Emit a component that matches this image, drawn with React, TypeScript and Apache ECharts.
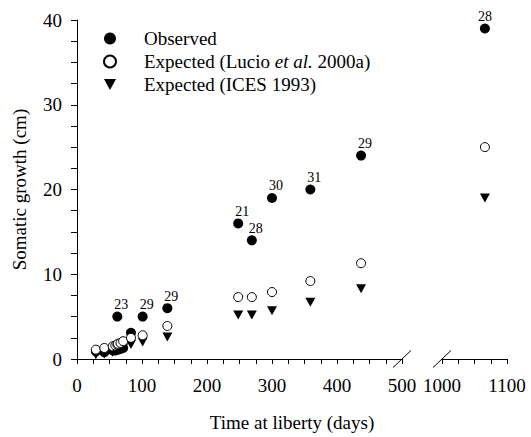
import React, { useEffect, useRef } from 'react';
import * as echarts from 'echarts';

// ---- data ----
const days = [29, 42, 55, 59, 62, 63, 67, 71, 83, 101, 139, 248, 269, 300, 359, 437, 1066];
const observed = [0.9, 0.8, 1.0, 1.0, 5.0, 1.1, 1.2, 1.3, 3.1, 5.0, 6.0, 16.0, 14.0, 19.0, 20.0, 24.0, 39.0];
const pointLabels = ['', '', '', '', '23', '', '', '', '', '29', '29', '21', '28', '30', '31', '29', '28'];
const expectedLucio = [1.1, 1.3, 1.5, 1.6, 1.7, 1.8, 1.9, 2.1, 2.5, 2.8, 3.9, 7.3, 7.3, 7.9, 9.2, 11.3, 25.0];
const expectedICES = [0.5, 0.6, 0.8, 0.9, 1.0, 1.0, 1.1, 1.3, 1.7, 2.0, 2.6, 5.2, 5.2, 5.7, 6.7, 8.3, 19.0];

const seriesNames = ['Observed', 'Expected (Lucio et al. 2000a)', 'Expected (ICES 1993)'];
const leftRange = [0, 500];
const rightRange = [1000, 1100];
const yRange = [0, 40];
const xTickStep = 25;
const xLabelStep = 100;
const yTickStep = 2.5;
const yLabelStep = 10;
const xTitle = 'Time at liberty (days)';
const yTitle = 'Somatic growth (cm)';

// ---- layout ----
const FONT = '"Liberation Serif", "Times New Roman", serif';
const GRID_TOP = 20;
const GRID_H = 339;
const LEFT0 = 77;
const W0 = 325;
const LEFT1 = 442;
const W1 = 65;
const AXIS_Y = GRID_TOP + GRID_H;

const TRIANGLE = 'path://M0,0L10,0L5,9Z';

export default function App() {
  const ref = useRef<HTMLDivElement>(null);
  useEffect(() => {
    if (!ref.current) return;
    const chart = echarts.init(ref.current, undefined, { renderer: 'svg' });

    const inGrid = (gi: number) => (d: number) => (gi === 0 ? d < rightRange[0] : d >= rightRange[0]);
    const build = (values: number[], gi: number, withLabel: boolean) =>
      days
        .map((d, i) => (withLabel ? [d, values[i], pointLabels[i]] : [d, values[i]]))
        .filter((p) => inGrid(gi)(p[0] as number));

    const series: any[] = [];
    [0, 1].forEach((gi) => {
      series.push({
        name: seriesNames[0],
        type: 'scatter',
        xAxisIndex: gi,
        yAxisIndex: gi,
        symbol: 'circle',
        symbolSize: 10,
        itemStyle: { color: '#000', opacity: 1 },
        data: build(observed, gi, true),
        label: {
          show: true,
          position: 'top',
          distance: 0,
          offset: gi === 0 ? [4, 0] : [0, 0],
          formatter: (p: any) => p.value[2] || '',
          fontFamily: FONT,
          fontSize: 14,
          color: '#000',
        },
        emphasis: { disabled: true },
        z: 2,
      });
      series.push({
        name: seriesNames[2],
        type: 'scatter',
        xAxisIndex: gi,
        yAxisIndex: gi,
        symbol: TRIANGLE,
        symbolSize: [10, 9],
        itemStyle: { color: '#000', opacity: 1 },
        data: build(expectedICES, gi, false),
        emphasis: { disabled: true },
        z: 3,
      });
      series.push({
        name: seriesNames[1],
        type: 'scatter',
        xAxisIndex: gi,
        yAxisIndex: gi,
        symbol: 'circle',
        symbolSize: 9,
        itemStyle: { color: '#fff', borderColor: '#000', borderWidth: 1, opacity: 1 },
        data: build(expectedLucio, gi, false),
        emphasis: { disabled: true },
        z: 4,
      });
    });

    const axisCommon = {
      axisLine: { show: true, lineStyle: { color: '#000', width: 1 } },
      splitLine: { show: false },
    };

    const xAxisFor = (gi: number, range: number[]) => ({
      type: 'value',
      gridIndex: gi,
      min: range[0],
      max: range[1],
      interval: xTickStep,
      ...axisCommon,
      axisTick: { show: true, length: 5, inside: false, lineStyle: { color: '#000' } },
      axisLabel: {
        margin: 17,
        fontFamily: FONT,
        fontSize: 19,
        color: '#000',
        formatter: (v: number) => (v % xLabelStep === 0 ? String(v) : ''),
        showMinLabel: true,
        showMaxLabel: true,
        hideOverlap: false,
      },
    });

    const option: any = {
      animation: false,
      grid: [
        { left: LEFT0, top: GRID_TOP, width: W0, height: GRID_H },
        { left: LEFT1, top: GRID_TOP, width: W1, height: GRID_H },
      ],
      xAxis: [xAxisFor(0, leftRange), xAxisFor(1, rightRange)],
      yAxis: [
        {
          type: 'value',
          gridIndex: 0,
          min: yRange[0],
          max: yRange[1],
          interval: yTickStep,
          ...axisCommon,
          axisTick: { show: true, length: 6, inside: false, lineStyle: { color: '#000' } },
          axisLabel: {
            margin: 15,
            fontFamily: FONT,
            fontSize: 19,
            color: '#000',
            formatter: (v: number) => (v % yLabelStep === 0 ? String(v) : ''),
          },
          name: yTitle,
          nameLocation: 'middle',
          nameGap: 48,
          nameTextStyle: { fontFamily: FONT, fontSize: 19, color: '#000' },
        },
        {
          type: 'value',
          gridIndex: 1,
          min: yRange[0],
          max: yRange[1],
          show: false,
          splitLine: { show: false },
        },
      ],
      legend: {
        orient: 'vertical',
        left: 98,
        top: 24,
        itemWidth: 12,
        itemHeight: 12,
        itemGap: 4,
        selectedMode: false,
        data: seriesNames,
        formatter: (n: string) =>
          n === seriesNames[1] ? '{n|Expected (Lucio }{i|et al.}{n| 2000a)}' : n,
        textStyle: {
          fontFamily: FONT,
          fontSize: 19,
          color: '#000',
          padding: [0, 0, 0, 23],
          rich: {
            n: { fontFamily: FONT, fontSize: 19, color: '#000' },
            i: { fontFamily: FONT, fontSize: 19, color: '#000', fontStyle: 'italic' },
          },
        },
      },
      graphic: [
        {
          type: 'text',
          x: (LEFT0 + LEFT1 + W1) / 2,
          y: 422,
          style: {
            text: xTitle,
            fontFamily: FONT,
            fontSize: 19,
            fill: '#000',
            align: 'center',
            verticalAlign: 'middle',
          },
        },
        {
          type: 'line',
          shape: { x1: LEFT0 + W0 - 9, y1: AXIS_Y + 8.5, x2: LEFT0 + W0 + 9, y2: AXIS_Y - 8.5 },
          style: { stroke: '#000', lineWidth: 1 },
        },
        {
          type: 'line',
          shape: { x1: LEFT1 - 9, y1: AXIS_Y + 8.5, x2: LEFT1 + 9, y2: AXIS_Y - 8.5 },
          style: { stroke: '#000', lineWidth: 1 },
        },
      ],
      series,
    };

    chart.setOption(option);
    return () => chart.dispose();
  }, []);

  return (
    <div
      ref={ref}
      style={{ position: 'fixed', left: 0, top: 0, width: 531, height: 437, background: '#fff' }}
    />
  );
}
